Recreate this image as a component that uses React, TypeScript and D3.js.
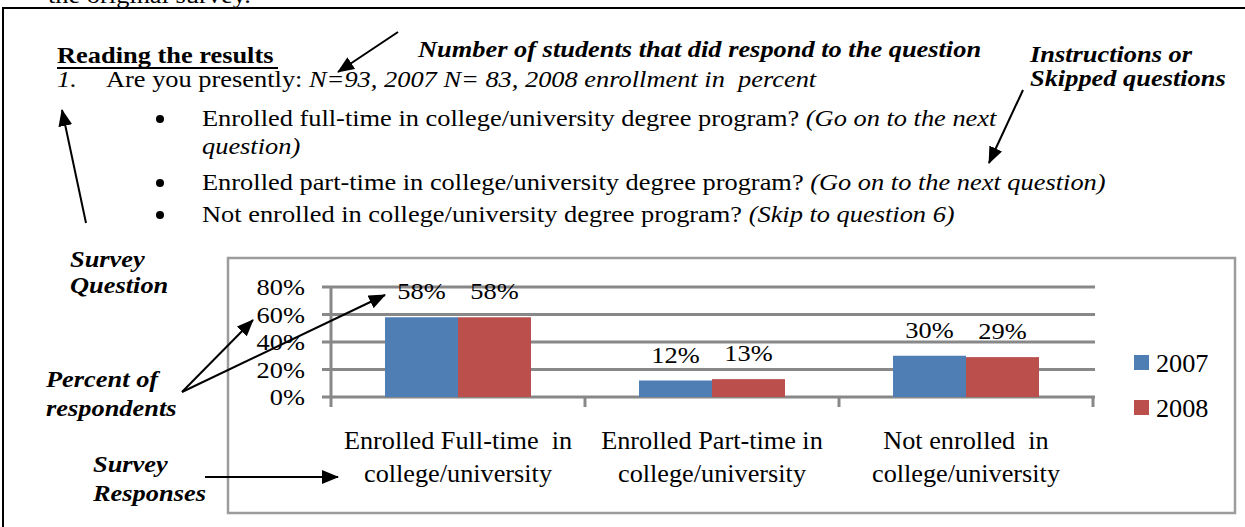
import React from "react";
import * as d3 from "d3";

const categoryLines: string[][] = [
  ["Enrolled Full-time  in", "college/university"],
  ["Enrolled Part-time in", "college/university"],
  ["Not enrolled  in", "college/university"],
];
const categoryIds = ["full", "part", "not"];
const seriesNames = ["2007", "2008"];
const values2007 = [58, 12, 30];
const values2008 = [58, 13, 29];
const yTicks = [0, 20, 40, 60, 80];
const colors = ["#4F7EB5", "#BA4F4C"];

const FONT = "'Liberation Serif', 'Times New Roman', serif";

function T(props: any) {
  const { x, y, size = 24, sx = 1.1, anchor = "start", weight = "normal", italic = false, children, fill = "#000" } = props;
  return (
    <text
      transform={`translate(${x},${y}) scale(${sx},1)`}
      fontSize={size}
      fontFamily={FONT}
      fontWeight={weight}
      fontStyle={italic ? "italic" : "normal"}
      textAnchor={anchor}
      fill={fill}
      style={{ whiteSpace: "pre" }}
    >
      {children}
    </text>
  );
}

export default function App() {
  const x0 = d3.scaleBand<string>().domain(categoryIds).range([331, 1093]).paddingInner(0).paddingOuter(0);
  const x1 = d3.scaleBand<string>().domain(seriesNames).range([0, x0.bandwidth()]).paddingInner(0).paddingOuter(0.74);
  const y = d3.scaleLinear().domain([0, 80]).range([397, 287]);
  const series = [values2007, values2008];

  const arrow = (x1a: number, y1a: number, x2a: number, y2a: number, key: string) => (
    <line key={key} x1={x1a} y1={y1a} x2={x2a} y2={y2a} stroke="#000" strokeWidth={2} markerEnd="url(#ah)" />
  );

  const bullets = [
    { yb: 126, reg: "Enrolled full-time in college/university degree program? ", it: "(Go on to the next" },
    { yb: 190, reg: "Enrolled part-time in college/university degree program? ", it: "(Go on to the next question)" },
    { yb: 222, reg: "Not enrolled in college/university degree program? ", it: "(Skip to question 6)" },
  ];

  return (
    <svg width={1245} height={527} style={{ position: "absolute", left: 0, top: 0, background: "#fff" }}>
      <defs>
        <marker id="ah" markerUnits="userSpaceOnUse" markerWidth={17} markerHeight={14} refX={16} refY={7} orient="auto">
          <path d="M0,0 L17,7 L0,14 Z" fill="#000" />
        </marker>
      </defs>
      <rect x={0} y={0} width={1245} height={527} fill="#fff" />
      <T x={48} y={3}>the original survey.</T>
      <path d="M3,530 L3,8 L1250,8" fill="none" stroke="#000" strokeWidth={2} />

      <T x={57} y={63} weight="bold">Reading the results</T>
      <line x1={57} x2={278} y1={68} y2={68} stroke="#000" strokeWidth={2} />
      <T x={57} y={87} italic>1.</T>
      <T x={106} y={87}>
        {"Are you presently: "}
        <tspan fontStyle="italic">{"N=93, 2007 N= 83, 2008 enrollment in  percent"}</tspan>
      </T>
      {bullets.map((b, i) => (
        <g key={i}>
          <circle cx={160} cy={b.yb - 7} r={4} fill="#000" />
          <T x={202} y={b.yb}>
            {b.reg}
            <tspan fontStyle="italic">{b.it}</tspan>
          </T>
        </g>
      ))}
      <T x={202} y={154} italic>question)</T>

      <T x={418} y={57} weight="bold" italic>Number of students that did respond to the question</T>
      <T x={1030} y={62} weight="bold" italic>Instructions or</T>
      <T x={1030} y={86} weight="bold" italic>Skipped questions</T>
      <T x={70} y={267} weight="bold" italic>Survey</T>
      <T x={70} y={293} weight="bold" italic>Question</T>
      <T x={46} y={387} weight="bold" italic>Percent of</T>
      <T x={46} y={416} weight="bold" italic>respondents</T>
      <T x={93} y={472} weight="bold" italic>Survey</T>
      <T x={93} y={501} weight="bold" italic>Responses</T>

      {/* chart */}
      <rect x={228} y={258} width={1007} height={255} fill="#fff" stroke="#9c9c9c" strokeWidth={2.5} />
      {yTicks.map((t) => (
        <g key={t}>
          <line x1={322} x2={1095} y1={y(t)} y2={y(t)} stroke="#888" strokeWidth={3} />
          <T x={305} y={y(t) + 8} size={24} sx={1.1} anchor="end">{`${t}%`}</T>
        </g>
      ))}
      <line x1={331} x2={331} y1={y(80)} y2={407} stroke="#888" strokeWidth={3} />
      {categoryIds.map((c) => (
        <line key={c} x1={(x0(c) as number) + x0.bandwidth()} x2={(x0(c) as number) + x0.bandwidth()} y1={y(0)} y2={407} stroke="#888" strokeWidth={3} />
      ))}
      {categoryIds.map((c, ci) => (
        <g key={c} transform={`translate(${x0(c)},0)`}>
          {seriesNames.map((s, si) => {
            const v = series[si][ci];
            const bx = x1(s) as number;
            return (
              <g key={s}>
                <rect x={bx} y={y(v)} width={x1.bandwidth()} height={y(0) - y(v)} fill={colors[si]} />
                <T x={bx + x1.bandwidth() / 2} y={y(v) - 18} size={24} sx={1.1} anchor="middle">{`${v}%`}</T>
              </g>
            );
          })}
          {categoryLines[ci].map((ln, li) => (
            <T key={li} x={x0.bandwidth() / 2} y={449 + li * 33} size={25} sx={1.05} anchor="middle">{ln}</T>
          ))}
        </g>
      ))}
      {seriesNames.map((s, si) => (
        <g key={s}>
          <rect x={1134} y={355 + si * 45} width={15} height={15} fill={colors[si]} />
          <T x={1156} y={372 + si * 45} size={25} sx={1.05}>{s}</T>
        </g>
      ))}

      {/* arrows */}
      {arrow(398, 32, 338, 72, "a1")}
      {arrow(86, 223, 62, 110, "a2")}
      {arrow(1023, 90, 989, 163, "a3")}
      {arrow(182, 392, 253, 320, "a4")}
      {arrow(182, 392, 385, 295, "a5")}
      {arrow(205, 477, 338, 477, "a6")}
    </svg>
  );
}
